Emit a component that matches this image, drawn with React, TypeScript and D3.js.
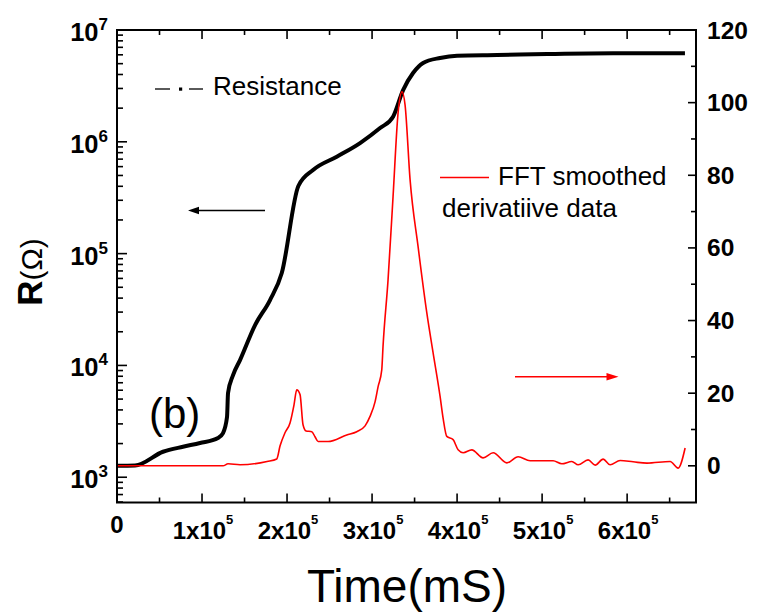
import React from "react";
import * as d3 from "d3";

// Resistance curve (time in ms, resistance in ohm)
const resTime = [0, 21200, 54100, 77600, 97600, 118800, 124700, 129400, 130600, 136500, 144700, 162400, 180000, 193800, 213300, 230600, 258500, 285900, 309400, 324700, 336500, 348200, 360000, 380000, 400000, 447000, 506000, 583500, 668000];
const resValues = [1268, 1274, 1690, 1875, 2023, 2244, 2483, 3451, 5662, 8204, 11170, 22960, 38460, 66990, 402700, 559800, 736200, 975000, 1327000, 1679000, 2904000, 4121000, 5070000, 5623000, 5888000, 5970000, 6095000, 6194000, 6194000];

// FFT smoothed derivative (right axis)
const derTime = [0, 124700, 130600, 144700, 176500, 187900, 191800, 197600, 203500, 208200, 211400, 215300, 218800, 222400, 229100, 232900, 236500, 248200, 270200, 282000, 291800, 297600, 303500, 307100, 311400, 312900, 318800, 324700, 330600, 335300, 338800, 344700, 354100, 364400, 371800, 380000, 383500, 387900, 395300, 401200, 407100, 417300, 430600, 442400, 458500, 471800, 485900, 512900, 523200, 534900, 542400, 554100, 562400, 571800, 580000, 591800, 607100, 623200, 650600, 660000, 668200];
const derValues = [0, 0, 0.55, 0.28, 1.2, 1.9, 5.5, 9.1, 11.8, 16.8, 20.9, 19.6, 11.3, 9.6, 9.4, 8.0, 6.7, 6.7, 8.5, 9.4, 11.0, 13.6, 17.6, 21.8, 26.4, 32.9, 51.2, 74.2, 97.2, 103, 99.4, 78.8, 60.4, 42.1, 31.1, 19.1, 13.2, 8.1, 7.2, 4.4, 3.6, 4.4, 2.2, 3.6, 0.8, 2.5, 1.4, 1.4, 0.55, 1.2, 0.28, 1.65, 0.2, 1.85, 0.28, 1.46, 1.1, 0.74, 1.2, -0.63, 4.9];

const xTicks = [0, 100000, 200000, 300000, 400000, 500000, 600000];
const xTickLabels = ["0", "1x10", "2x10", "3x10", "4x10", "5x10", "6x10"];
const leftExps = [3, 4, 5, 6, 7];
const rightTicks = [0, 20, 40, 60, 80, 100, 120];

const FONT = "'Liberation Sans', Arial, Helvetica, sans-serif";

export default function App() {
  const L = 117, R = 696, T = 30, B = 502.5;
  const x = d3.scaleLinear().domain([0, 681000]).range([L, R]);
  const yL = d3.scaleLog().domain([Math.pow(10, 2.774), 1e7]).range([B, T]);
  const yR = d3.scaleLinear().domain([-10.1, 120]).range([B, T]);

  const resLine = d3
    .line<number>()
    .x((_, i) => x(resTime[i]))
    .y((d) => yL(d))
    .curve(d3.curveMonotoneX);
  const derLine = d3
    .line<number>()
    .x((_, i) => x(derTime[i]))
    .y((d) => yR(d))
    .curve(d3.curveMonotoneX);

  const xMinor = d3.range(50000, 681000, 100000);
  const leftMinor: number[] = [];
  for (let e = 2; e <= 6; e++) {
    for (let m = 2; m <= 9; m++) {
      const v = m * Math.pow(10, e);
      if (v >= Math.pow(10, 2.774) && v < 1e7) leftMinor.push(v);
    }
  }
  const rightMinor = [10, 30, 50, 70, 90, 110];

  return (
    <svg
      width={757}
      height={613}
      style={{ position: "absolute", left: 0, top: 0, background: "#fff" }}
      fontFamily={FONT}
    >
      <rect x={0} y={0} width={757} height={613} fill="#fff" />

      <path d={resLine(resValues) || ""} fill="none" stroke="#000" strokeWidth={4} strokeLinejoin="round" />
      <path d={derLine(derValues) || ""} fill="none" stroke="#ff0000" strokeWidth={1.6} strokeLinejoin="round" />

      <rect x={L} y={T} width={R - L} height={B - T} fill="none" stroke="#000" strokeWidth={2} />

      {xTicks.map((t) => (
        <g key={"xt" + t}>
          <line x1={x(t)} x2={x(t)} y1={B} y2={B - 9} stroke="#000" strokeWidth={1.6} />
          <line x1={x(t)} x2={x(t)} y1={T} y2={T + 9} stroke="#000" strokeWidth={1.6} />
        </g>
      ))}
      {xMinor.map((t) => (
        <g key={"xm" + t}>
          <line x1={x(t)} x2={x(t)} y1={B} y2={B - 5} stroke="#000" strokeWidth={1.6} />
          <line x1={x(t)} x2={x(t)} y1={T} y2={T + 5} stroke="#000" strokeWidth={1.6} />
        </g>
      ))}
      {xTicks.map((t, i) =>
        i === 0 ? (
          <text key={"xl" + t} x={x(t)} y={533} textAnchor="middle" fontSize={24} fontWeight="bold">
            {xTickLabels[i]}
          </text>
        ) : (
          <text key={"xl" + t} x={x(t) + 1} y={539} textAnchor="middle" fontSize={24} fontWeight="bold">
            {xTickLabels[i]}
            <tspan fontSize={13} dy={-15}>5</tspan>
          </text>
        )
      )}

      {leftExps.map((e) => (
        <g key={"yl" + e}>
          <line x1={L} x2={L + 10} y1={yL(Math.pow(10, e))} y2={yL(Math.pow(10, e))} stroke="#000" strokeWidth={1.6} />
          <text x={108} y={yL(Math.pow(10, e)) + 11} textAnchor="end" fontSize={25.5} fontWeight="bold">
            10
            <tspan fontSize={17} dy={-11}>{e}</tspan>
          </text>
        </g>
      ))}
      {leftMinor.map((v) => (
        <line key={"ylm" + v} x1={L} x2={L + 6} y1={yL(v)} y2={yL(v)} stroke="#000" strokeWidth={1.6} />
      ))}

      {rightTicks.map((v) => (
        <g key={"yr" + v}>
          <line x1={R} x2={R - 8} y1={yR(v)} y2={yR(v)} stroke="#000" strokeWidth={1.6} />
          <text x={707} y={yR(v) + 8.5} textAnchor="start" fontSize={24.5} fontWeight="bold">
            {v}
          </text>
        </g>
      ))}
      {rightMinor.map((v) => (
        <line key={"yrm" + v} x1={R} x2={R - 5} y1={yR(v)} y2={yR(v)} stroke="#000" strokeWidth={1.6} />
      ))}

      <text transform="translate(42,272) rotate(-90)" textAnchor="middle" fontSize={35}>
        <tspan fontWeight="bold">R</tspan>
        <tspan fontSize={30}>(Ω)</tspan>
      </text>
      <text x={407} y={602} textAnchor="middle" fontSize={46}>
        Time(mS)
      </text>

      <line x1={155} x2={170} y1={89} y2={89} stroke="#000" strokeWidth={1.3} />
      <rect x={179} y={87.5} width={3.2} height={3.2} fill="#000" />
      <line x1={189} x2={203} y1={89} y2={89} stroke="#000" strokeWidth={1.3} />
      <text x={213} y={95} fontSize={26}>Resistance</text>

      <line x1={440} x2={489} y1={177.5} y2={177.5} stroke="#ff0000" strokeWidth={1.6} />
      <text x={498} y={185} fontSize={26}>FFT smoothed</text>
      <text x={442} y={216.5} fontSize={26}>derivatiive data</text>

      <line x1={265} x2={196} y1={210.5} y2={210.5} stroke="#000" strokeWidth={1.4} />
      <path d="M188,210.5 L199,206.8 L199,214.2 Z" fill="#000" />
      <line x1={515} x2={608} y1={376.7} y2={376.7} stroke="#ff0000" strokeWidth={1.4} />
      <path d="M618.5,376.7 L606.5,373 L606.5,380.4 Z" fill="#ff0000" />

      <text x={149} y={428} fontSize={42}>(b)</text>
    </svg>
  );
}
